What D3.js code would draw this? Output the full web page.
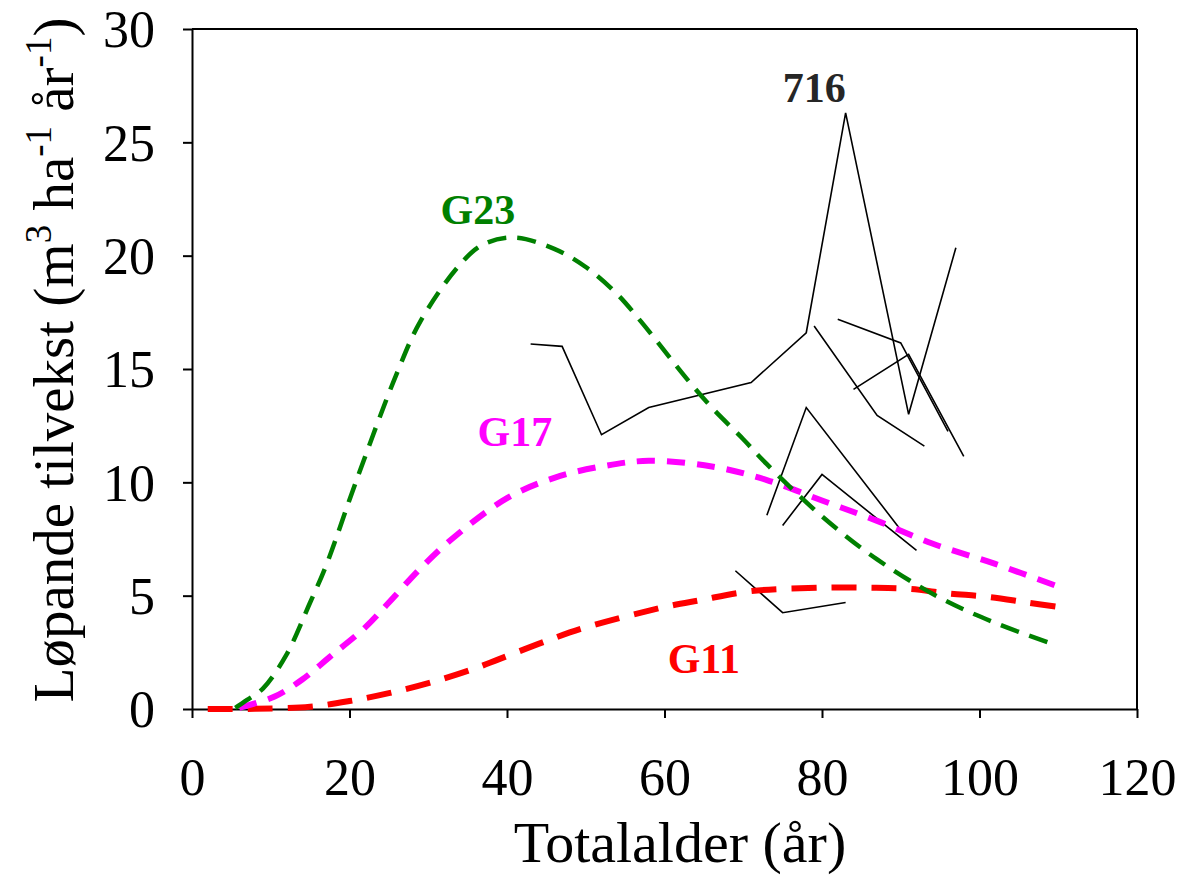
<!DOCTYPE html>
<html>
<head>
<meta charset="utf-8">
<script src="https://cdn.jsdelivr.net/npm/d3@7"></script>
<style>
  html, body { margin: 0; padding: 0; background: #fff; }
  svg { display: block; }
</style>
</head>
<body>
<svg width="1180" height="887"></svg>
<script>
// akser
const xTicks = [0, 20, 40, 60, 80, 100, 120];
const yTicks = [0, 5, 10, 15, 20, 25, 30];

// modellkurver (alder, tilvekst)
const g23Age = [5.5, 7, 9, 12, 15, 17, 21, 26, 29, 34, 37, 41, 46, 50, 54, 57, 63, 66, 70, 73, 80, 87, 95, 102, 109];
const g23Val = [0.05, 0.4, 0.9, 2.4, 4.7, 6.3, 10.2, 14.8, 17.1, 19.6, 20.5, 20.8, 20.3, 19.5, 18.3, 17.1, 14.5, 13.3, 11.9, 10.8, 8.5, 6.6, 4.9, 3.8, 2.9];

const g17Age = [6, 10.5, 14, 17.5, 22, 25, 29, 33, 40, 46, 52, 58, 66, 73, 80, 87, 94, 102, 110];
const g17Val = [0.05, 0.55, 1.3, 2.3, 3.6, 4.7, 6.2, 7.5, 9.3, 10.2, 10.7, 10.95, 10.7, 10.1, 9.2, 8.3, 7.3, 6.4, 5.4];

const g11Age = [2, 8, 15, 20, 25, 30.6, 36, 39, 45, 50, 60, 64.5, 71, 80, 86, 91, 96, 101, 106, 110];
const g11Val = [0, 0.01, 0.1, 0.35, 0.7, 1.2, 1.8, 2.2, 3.0, 3.6, 4.5, 4.8, 5.2, 5.35, 5.35, 5.3, 5.1, 4.95, 4.7, 4.5];

// felt 716 (målte serier)
const f716Age = [
    [43, 47, 52, 58, 71, 78, 83, 91, 97],
    [79, 87, 93],
    [82, 90, 96],
    [84, 91, 98],
    [73, 78, 90],
    [75, 80, 92],
    [69, 75, 83]
];
const f716Val = [
    [16.1, 16.0, 12.1, 13.3, 14.4, 16.6, 26.3, 13.0, 20.35],
    [16.9, 12.95, 11.6],
    [17.2, 16.15, 12.25],
    [14.1, 15.65, 11.15],
    [8.55, 13.3, 7.9],
    [8.1, 10.35, 7.0],
    [6.1, 4.25, 4.7]
];

const labels = [
    { text: "716", age: 79, val: 26.8, color: "#262626" },
    { text: "G23", age: 36.3, val: 21.4, color: "#008000" },
    { text: "G17", age: 41, val: 11.6, color: "#ff00ff" },
    { text: "G11", age: 65, val: 1.6, color: "#ff0000" }
];

const font = "'Times New Roman', 'Liberation Serif', serif";

let svg = d3.select("svg");
let area = { left: 192, top: 29, width: 945, height: 680 };

let scX = d3.scaleLinear().domain([0, 120]).range([0, area.width]);
let scY = d3.scaleLinear().domain([0, 30]).range([area.height, 0]);

let g = svg.append("g").attr("transform", `translate(${area.left}, ${area.top})`);

// ramme oppe og til høyre
g.append("line").attr("x1", 0).attr("x2", area.width).attr("y1", 0).attr("y2", 0)
    .attr("stroke", "#000").attr("stroke-width", 2);
g.append("line").attr("x1", area.width).attr("x2", area.width).attr("y1", 0).attr("y2", area.height)
    .attr("stroke", "#000").attr("stroke-width", 2);

// x-akse
let axX = g.append("g")
    .attr("transform", `translate(0, ${area.height})`)
    .call(d3.axisBottom(scX).tickValues(xTicks).tickSize(9).tickSizeOuter(0).tickPadding(40));
// y-akse
let axY = g.append("g")
    .call(d3.axisLeft(scY).tickValues(yTicks).tickSize(9).tickSizeOuter(0).tickPadding(28));

[axX, axY].forEach(ax => {
    ax.select(".domain").attr("stroke", "#000").attr("stroke-width", 2);
    ax.selectAll(".tick line").attr("stroke", "#000").attr("stroke-width", 2);
    ax.selectAll("text").style("font-family", font).attr("font-size", 52).attr("fill", "#000");
});
axY.selectAll("text").attr("dy", "0.34em");

// linjegenerator
let line = d3.line().x(d => scX(d[0])).y(d => scY(d[1]));

// 716 serier
f716Age.forEach((ages, i) => {
    g.append("path")
        .datum(ages.map((a, j) => [a, f716Val[i][j]]))
        .attr("d", line)
        .attr("fill", "none")
        .attr("stroke", "#000")
        .attr("stroke-width", 1.6)
        .attr("stroke-linejoin", "miter");
});

let smooth = d3.line().x(d => scX(d[0])).y(d => scY(d[1])).curve(d3.curveCatmullRom.alpha(0.5));

const curves = [
    { age: g11Age, val: g11Val, color: "#ff0000", dash: "25,15", w: 6 },
    { age: g17Age, val: g17Val, color: "#ff00ff", dash: "18,12", w: 6 },
    { age: g23Age, val: g23Val, color: "#008000", dash: "19,11", w: 4.5 }
];
curves.forEach(c => {
    g.append("path")
        .datum(c.age.map((a, j) => [a, c.val[j]]))
        .attr("d", smooth)
        .attr("fill", "none")
        .attr("stroke", c.color)
        .attr("stroke-width", c.w)
        .attr("stroke-dasharray", c.dash);
});

// etiketter
labels.forEach(l => {
    g.append("text")
        .attr("x", scX(l.age))
        .attr("y", scY(l.val))
        .attr("text-anchor", "middle")
        .style("font-family", font)
        .attr("font-weight", "bold")
        .attr("font-size", 42)
        .attr("fill", l.color)
        .text(l.text);
});

// aksetitler
svg.append("text")
    .attr("x", 680)
    .attr("y", 862)
    .attr("text-anchor", "middle")
    .style("font-family", font)
    .attr("font-size", 58)
    .text("Totalalder (år)");

let yt = svg.append("text")
    .attr("transform", "translate(73, 360) rotate(-90)")
    .attr("text-anchor", "middle")
    .style("font-family", font)
    .attr("font-size", 57);
yt.append("tspan").text("Løpande tilvekst (m");
yt.append("tspan").attr("font-size", 37).attr("dy", -22).text("3");
yt.append("tspan").attr("dy", 22).text(" ha");
yt.append("tspan").attr("font-size", 37).attr("dy", -22).text("-1");
yt.append("tspan").attr("dy", 22).text(" år");
yt.append("tspan").attr("font-size", 37).attr("dy", -22).text("-1");
yt.append("tspan").attr("dy", 22).text(")");
</script>
</body>
</html>
